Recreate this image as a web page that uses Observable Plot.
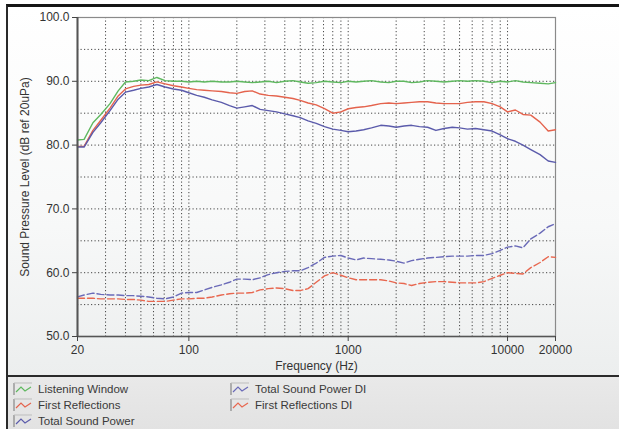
<!DOCTYPE html>
<html>
<head>
<meta charset="utf-8">
<script src="https://cdn.jsdelivr.net/npm/d3@7"></script>
<script src="https://cdn.jsdelivr.net/npm/@observablehq/plot@0.6"></script>
<style>
  html, body { margin: 0; padding: 0; width: 619px; height: 429px; overflow: hidden; background: #fff; font-family: "Liberation Sans", Arial, sans-serif; }
  #wrap { position: absolute; left: 6px; top: 4px; width: 613px; height: 425px; border-top: 3px solid #151515; border-left: 2px solid #2a2a2a; box-sizing: border-box; }
  #chart { position: absolute; left: 0; top: 0; width: 611px; height: 368px; background: linear-gradient(#ffffff 0%, #f7f8f8 60%, #eceeee 100%); }
  #legend { position: absolute; left: 0; top: 368px; width: 611px; height: 54px; border-top: 2px solid #2a2a2a; background: linear-gradient(#e9e9e9, #e2e2e2); font-size: 11.5px; color: #3a3a3a; }
  .item { position: absolute; height: 14px; line-height: 14px; white-space: nowrap; }
  .item svg { position: absolute; left: -25px; top: 0px; }
</style>
</head>
<body>
<div id="wrap">
  <div id="chart"></div>
  <div id="legend"></div>
</div>
<script>
const freqs = [20,22,25,28,32,36,40,45,50,56,63,71,80,90,100,112,125,140,160,180,200,224,250,280,315,355,400,450,500,560,630,710,800,900,1000,1120,1250,1400,1600,1800,2000,2240,2500,2800,3150,3550,4000,4500,5000,5600,6300,7100,8000,9000,10000,11200,12500,14000,16000,18000,20000];

const listeningWindow = [80.8,80.9,83.5,84.8,86.5,88.5,89.9,90.0,90.2,90.1,90.6,90.1,90.0,90.0,89.9,90.0,89.9,90.0,89.9,89.9,90.0,89.9,89.8,89.9,90.0,89.8,90.0,90.1,89.9,89.7,89.8,90.0,89.9,89.8,90.0,89.9,90.0,90.1,89.9,89.8,90.0,90.0,89.8,89.9,90.1,90.0,89.9,90.0,90.1,90.0,90.1,90.0,89.8,90.0,89.9,90.1,89.9,89.8,89.7,89.6,89.8];

const firstReflections = [79.8,79.8,82.3,83.9,85.8,87.7,88.8,89.2,89.4,89.5,89.9,89.6,89.3,89.1,88.9,88.7,88.6,88.5,88.4,88.2,88.1,88.4,88.5,88.0,87.8,87.7,87.5,87.3,87.0,86.6,86.3,85.7,85.0,85.2,85.7,85.9,86.0,86.2,86.5,86.6,86.5,86.6,86.7,86.8,86.8,86.6,86.5,86.5,86.5,86.7,86.8,86.8,86.5,86.0,85.2,85.5,84.8,84.7,83.6,82.2,82.4];

const totalSoundPower = [79.7,79.7,82.0,83.5,85.4,87.2,88.3,88.6,88.9,89.1,89.5,89.1,88.8,88.6,88.2,87.8,87.5,87.1,86.7,86.2,85.8,86.0,86.2,85.6,85.4,85.2,84.9,84.6,84.3,83.8,83.4,82.9,82.5,82.3,82.1,82.2,82.4,82.7,83.1,83.0,82.8,83.0,83.1,82.9,82.8,82.3,82.6,82.8,82.7,82.5,82.6,82.4,82.2,81.6,81.0,80.6,80.0,79.3,78.5,77.5,77.3];

const totalSoundPowerDI = [56.2,56.5,56.8,56.6,56.5,56.5,56.4,56.4,56.3,56.2,56.0,55.9,56.2,56.8,56.9,56.9,57.3,57.7,58.1,58.5,59.0,59.0,58.9,59.2,59.7,60.0,60.2,60.3,60.3,60.8,61.5,62.4,62.6,62.7,62.3,62.0,62.3,62.2,62.1,62.0,61.8,61.5,61.9,62.1,62.3,62.4,62.5,62.6,62.6,62.6,62.7,62.7,63.0,63.5,64.0,64.2,63.9,65.3,66.2,67.2,67.7];

const firstReflectionsDI = [56.0,56.0,56.0,55.9,55.9,55.9,55.8,55.8,55.7,55.5,55.5,55.5,55.7,55.9,55.9,56.0,56.0,56.2,56.5,56.7,56.8,56.8,56.9,57.3,57.5,57.6,57.5,57.2,57.2,57.5,58.5,59.5,60.0,59.6,59.2,58.9,58.9,58.9,58.9,58.7,58.4,58.3,58.0,58.3,58.5,58.6,58.6,58.5,58.4,58.4,58.4,58.6,59.1,59.6,60.0,59.9,59.8,60.8,61.6,62.5,62.4];

const xTicks = [20,100,1000,10000,20000];
const yTicks = [50,60,70,80,90,100];
const xGrid = [30,40,50,60,70,80,90,100,200,300,400,500,600,700,800,900,1000,2000,3000,4000,5000,6000,7000,8000,9000,10000];
const yGrid = [55,60,65,70,75,80,85,90,95];

const series = [
  {name: "Listening Window", values: listeningWindow, color: "#5fb85f", dash: null},
  {name: "First Reflections", values: firstReflections, color: "#e4634d", dash: null},
  {name: "Total Sound Power", values: totalSoundPower, color: "#5b5bab", dash: null},
  {name: "Total Sound Power DI", values: totalSoundPowerDI, color: "#6a6ab8", dash: "7,3"},
  {name: "First Reflections DI", values: firstReflectionsDI, color: "#e8674f", dash: "7,3"}
];

const lineMarks = series.map(s => Plot.line(freqs.map((f, i) => ({f, v: s.values[i]})), {
  x: "f", y: "v", stroke: s.color, strokeWidth: 1.4, strokeDasharray: s.dash
}));

const chart = Plot.plot({
  width: 611,
  height: 368,
  marginLeft: 69,
  marginRight: 64,
  marginTop: 10,
  marginBottom: 39,
  style: {background: "transparent", fontFamily: "'Liberation Sans', Arial, sans-serif", fontSize: "11px", color: "#333"},
  x: {type: "log", domain: [20, 20000]},
  y: {domain: [50, 100]},
  marks: [
    Plot.gridX(xGrid, {stroke: "#333", strokeOpacity: 0.9, strokeDasharray: "1.2,2.3"}),
    Plot.gridY(yGrid, {stroke: "#333", strokeOpacity: 0.9, strokeDasharray: "1.2,2.3"}),
    Plot.frame({stroke: "#8a8a8a", strokeWidth: 1.2}),
    ...lineMarks,
    Plot.ruleX([20], {stroke: "#555", strokeWidth: 2}),
    Plot.ruleY([50], {stroke: "#555", strokeWidth: 1.5}),
    Plot.axisY(yTicks, {tickFormat: d3.format(".1f"), tickSize: 5, tickPadding: 3, stroke: "#444", fontSize: 12,
      label: "Sound Pressure Level (dB ref 20uPa)", labelAnchor: "center", labelArrow: "none", labelOffset: 57}),
    Plot.axisX(xTicks, {tickFormat: d => String(d), tickSize: 5, tickPadding: 4, stroke: "#444", fontSize: 12,
      label: "Frequency (Hz)", labelAnchor: "center", labelArrow: "none", labelOffset: 33})
  ]
});
document.getElementById("chart").appendChild(chart);

// legend
const legendPos = [
  {left: 30, top: 5}, {left: 30, top: 21}, {left: 30, top: 37},
  {left: 247, top: 5}, {left: 247, top: 21}
];
const legend = document.getElementById("legend");
series.forEach((s, i) => {
  const div = document.createElement("div");
  div.className = "item";
  div.style.left = legendPos[i].left + "px";
  div.style.top = legendPos[i].top + "px";
  div.innerHTML = `<svg width="20" height="14"><polyline points="1,1 1,13" stroke="#9a9a9a" stroke-width="1.5" fill="none"/><polyline points="1,1 19,1" stroke="#bdbdbd" stroke-width="1" fill="none"/><polyline points="3,10 8,5 12,9 18,5" stroke="${s.color}" stroke-width="1.2" fill="none"/></svg>${s.name}`;
  legend.appendChild(div);
});
</script>
</body>
</html>
